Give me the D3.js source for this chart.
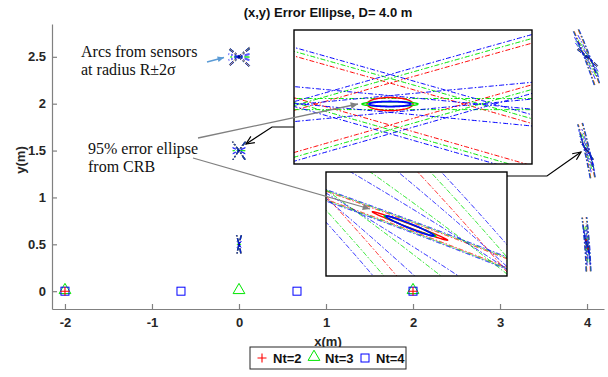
<!DOCTYPE html>
<html>
<head>
<meta charset="utf-8">
<script src="https://cdn.jsdelivr.net/npm/d3@7"></script>
<style>
body { margin: 0; background: #fff; }
</style>
</head>
<body>
<div id="chart"></div>
<script>
// ---- data ----
var ntValues = [2, 3, 4];
var sensorsNt2 = [-2, 2];            // sensor x positions, all at y = 0
var sensorsNt3 = [-2, 0, 2];
var sensorsNt4 = [-2, -2 / 3, 2 / 3, 2];
var targetX = [0, 0, 0, 4, 4, 4];
var targetY = [2.5, 1.5, 0.5, 2.5, 1.5, 0.5];
var xTicks = [-2, -1, 0, 1, 2, 3, 4];
var yTicks = [0, 0.5, 1, 1.5, 2, 2.5];
var sigma0 = 2e-4;          // range std of a sensor = sigma0 * sqrt(Nt) * R^2
var arcK = 2;               // arcs at R +/- 2 sigma
var arcHalfAngle = 0.048;   // angular half span of every drawn arc (rad)
var ellipseK = 0.88;        // 95% ellipse scale on the CRB
// zoom windows [xmin, xmax, ymin, ymax] of the two insets
var inset1Window = [-0.00575, 0.0085, 1.48315, 1.5208];
var inset2Window = [3.9671, 4.038, 1.430, 1.5755];
var inset1Target = 1;       // index into targetX / targetY
var inset2Target = 4;

// ---- layout / style ----
var colors = {2: "#ff0000", 3: "#00e600", 4: "#0000ff"};
var sensorsOf = {2: sensorsNt2, 3: sensorsNt3, 4: sensorsNt4};
var W = 608, H = 377;
var plot = {left: 52, right: 604, top: 24, bottom: 309};
var box1 = {x: 294, y: 30, w: 238, h: 134};
var box2 = {x: 326, y: 172, w: 181, h: 104};
var sansBold = "bold 13px 'Liberation Sans', Arial, sans-serif";
var serif = "16px 'Liberation Serif', 'Times New Roman', serif";

var svg = d3.select("#chart").append("svg")
    .attr("width", W).attr("height", H)
    .style("font", sansBold);

var x = d3.scaleLinear().domain([-2.149, 4.195]).range([plot.left, plot.right]);
var y = d3.scaleLinear().domain([-0.19, 2.85]).range([plot.bottom, plot.top]);

// axes, ticks pointing inward like matlab
var gx = svg.append("g").attr("transform", "translate(0," + plot.bottom + ")")
    .call(d3.axisBottom(x).tickValues(xTicks).tickSize(-5).tickSizeOuter(0)
        .tickPadding(9).tickFormat(function (d) { return String(d); }));
var gy = svg.append("g").attr("transform", "translate(" + plot.left + ",0)")
    .call(d3.axisLeft(y).tickValues(yTicks).tickSize(-5).tickSizeOuter(0)
        .tickPadding(6).tickFormat(function (d) { return String(d); }));
[gx, gy].forEach(function (g) {
    g.selectAll("path,line").attr("stroke", "#808080").attr("stroke-width", 1.2);
    g.selectAll("text").style("font", sansBold).attr("fill", "#262626");
});

svg.append("text").attr("x", (plot.left + plot.right) / 2).attr("y", 17)
    .attr("text-anchor", "middle").attr("fill", "#111")
    .text("(x,y) Error Ellipse, D= 4.0 m");
svg.append("text").attr("x", (plot.left + plot.right) / 2).attr("y", 346)
    .attr("text-anchor", "middle").attr("fill", "#262626").text("x(m)");
svg.append("text").attr("transform", "translate(25,160) rotate(-90)")
    .attr("text-anchor", "middle").attr("fill", "#262626").text("y(m)");

// ---- geometry helpers ----
function arcPaths(tx, ty, sensors, nt, n) {
    var out = [];
    sensors.forEach(function (s) {
        var dx = tx - s, dy = ty;
        var R = Math.sqrt(dx * dx + dy * dy);
        var th0 = Math.atan2(dy, dx);
        var sig = sigma0 * Math.sqrt(nt) * R * R;
        [R - arcK * sig, R + arcK * sig].forEach(function (rho) {
            out.push(d3.range(n + 1).map(function (i) {
                var th = th0 - arcHalfAngle + 2 * arcHalfAngle * i / n;
                return [s + rho * Math.cos(th), rho * Math.sin(th)];
            }));
        });
    });
    return out;
}

function crbEllipse(tx, ty, sensors, nt, n) {
    var jxx = 0, jxy = 0, jyy = 0;
    sensors.forEach(function (s) {
        var dx = tx - s, dy = ty, R = Math.sqrt(dx * dx + dy * dy);
        var sig = sigma0 * Math.sqrt(nt) * R * R;
        var ux = dx / R, uy = dy / R, w = 1 / (sig * sig);
        jxx += w * ux * ux; jxy += w * ux * uy; jyy += w * uy * uy;
    });
    var det = jxx * jyy - jxy * jxy;
    var a = jyy / det, b = -jxy / det, c = jxx / det;
    var m = (a + c) / 2, d = Math.sqrt((a - c) * (a - c) / 4 + b * b);
    var r1 = Math.sqrt(m + d) * ellipseK, r2 = Math.sqrt(Math.max(m - d, 0)) * ellipseK;
    var phi = 0.5 * Math.atan2(2 * b, a - c);
    return d3.range(n + 1).map(function (i) {
        var t = 2 * Math.PI * i / n;
        var ex = r1 * Math.cos(t), ey = r2 * Math.sin(t);
        return [tx + ex * Math.cos(phi) - ey * Math.sin(phi),
                ty + ex * Math.sin(phi) + ey * Math.cos(phi)];
    });
}

function drawTarget(g, sx, sy, ti, nSamples, ellipseWidth) {
    var line = d3.line().x(function (d) { return sx(d[0]); }).y(function (d) { return sy(d[1]); });
    ntValues.forEach(function (nt) {
        arcPaths(targetX[ti], targetY[ti], sensorsOf[nt], nt, nSamples).forEach(function (pts) {
            g.append("path").attr("d", line(pts)).attr("fill", "none")
                .attr("stroke", colors[nt]).attr("stroke-width", 1)
                .attr("stroke-dasharray", "5,2,1.5,2");
        });
    });
    ntValues.forEach(function (nt) {
        g.append("path").attr("d", line(crbEllipse(targetX[ti], targetY[ti], sensorsOf[nt], nt, 120)))
            .attr("fill", "none").attr("stroke", colors[nt])
            .attr("stroke-width", ellipseWidth[nt]);
    });
}

var defs = svg.append("defs");
function clipRect(id, r) {
    defs.append("clipPath").attr("id", id).append("rect")
        .attr("x", r.x).attr("y", r.y).attr("width", r.w).attr("height", r.h);
}
clipRect("clipMain", {x: plot.left, y: plot.top - 10, w: plot.right - plot.left, h: plot.bottom - plot.top + 10});
clipRect("clip1", box1);
clipRect("clip2", box2);

// ---- main plot ----
var main = svg.append("g").attr("clip-path", "url(#clipMain)");
targetX.forEach(function (tx, i) {
    drawTarget(main, x, y, i, 120, {2: 1, 3: 1, 4: 1});
});

// sensor markers along y = 0
var markers = svg.append("g").attr("fill", "none");
sensorsNt3.forEach(function (s) {
    markers.append("path").attr("d", d3.symbol(d3.symbolTriangle, 60)())
        .attr("transform", "translate(" + x(s) + "," + (y(0) - 1) + ")")
        .attr("stroke", colors[3]).attr("stroke-width", 1);
});
sensorsNt4.forEach(function (s) {
    markers.append("rect").attr("x", x(s) - 4).attr("y", y(0) - 4)
        .attr("width", 8).attr("height", 8)
        .attr("stroke", colors[4]).attr("stroke-width", 1);
});
sensorsNt2.forEach(function (s) {
    markers.append("path").attr("d", d3.symbol(d3.symbolCross, 0)())
        .attr("d", "M-4.5,0H4.5M0,-4.5V4.5")
        .attr("transform", "translate(" + x(s) + "," + y(0) + ")")
        .attr("stroke", colors[2]).attr("stroke-width", 1.1);
});

// ---- insets ----
function drawInset(box, win, ti, widths) {
    var sx = d3.scaleLinear().domain([win[0], win[1]]).range([box.x, box.x + box.w]);
    var sy = d3.scaleLinear().domain([win[2], win[3]]).range([box.y + box.h, box.y]);
    svg.append("rect").attr("x", box.x).attr("y", box.y).attr("width", box.w).attr("height", box.h)
        .attr("fill", "#fff");
    var g = svg.append("g").attr("clip-path", "url(#" + box.id + ")");
    drawTarget(g, sx, sy, ti, 1500, widths);
    svg.append("rect").attr("x", box.x).attr("y", box.y).attr("width", box.w).attr("height", box.h)
        .attr("fill", "none").attr("stroke", "#000").attr("stroke-width", 1.4);
}
box1.id = "clip1"; box2.id = "clip2";
drawInset(box1, inset1Window, inset1Target, {2: 1.4, 3: 1.4, 4: 1.8});
drawInset(box2, inset2Window, inset2Target, {2: 1.4, 3: 1.4, 4: 1.6});

// ---- annotations ----
function arrow(pts, color, width, head, filled) {
    svg.append("path").attr("d", d3.line()(pts)).attr("fill", "none")
        .attr("stroke", color).attr("stroke-width", width);
    var p = pts[pts.length - 1], q = pts[pts.length - 2];
    var ang = Math.atan2(p[1] - q[1], p[0] - q[0]);
    var a1 = ang + Math.PI - 0.42, a2 = ang + Math.PI + 0.42;
    var h1 = [p[0] + head * Math.cos(a1), p[1] + head * Math.sin(a1)];
    var h2 = [p[0] + head * Math.cos(a2), p[1] + head * Math.sin(a2)];
    if (filled) {
        svg.append("path").attr("d", "M" + h1 + "L" + p + "L" + h2 + "Z").attr("fill", color);
    } else {
        svg.append("path").attr("d", "M" + h1 + "L" + p + "L" + h2).attr("fill", "none")
            .attr("stroke", color).attr("stroke-width", width);
    }
}
arrow([[294, 127], [272, 127], [246, 144]], "#000", 1.2, 9, false);
arrow([[507, 176], [547, 176], [581, 152]], "#000", 1.2, 9, false);
arrow([[198, 138], [358, 104]], "#808080", 1.3, 8, true);
arrow([[193, 158], [370, 209]], "#808080", 1.3, 8, true);
arrow([[207, 62], [224, 57.5]], "#5b9bd5", 1.5, 7, true);

var notes = [
    {t: "Arcs from sensors", x: 81, y: 57},
    {t: "at radius R\u00b12\u03c3", x: 81, y: 75},
    {t: "95% error ellipse", x: 88, y: 154},
    {t: "from CRB", x: 88, y: 172}
];
notes.forEach(function (n) {
    svg.append("text").attr("x", n.x).attr("y", n.y).style("font", serif)
        .attr("fill", "#111").text(n.t);
});

// ---- legend ----
var lg = svg.append("g");
lg.append("rect").attr("x", 250).attr("y", 347).attr("width", 156).attr("height", 22)
    .attr("fill", "#fff").attr("stroke", "#262626").attr("stroke-width", 1);
var legendItems = [
    {nt: 2, mx: 262, tx: 273},
    {nt: 3, mx: 314, tx: 325},
    {nt: 4, mx: 365, tx: 376}
];
legendItems.forEach(function (it) {
    var cy = 358;
    if (it.nt === 2) {
        lg.append("path").attr("d", "M-4.5,0H4.5M0,-4.5V4.5")
            .attr("transform", "translate(" + it.mx + "," + cy + ")")
            .attr("stroke", colors[2]).attr("stroke-width", 1.1);
    } else if (it.nt === 3) {
        lg.append("path").attr("d", d3.symbol(d3.symbolTriangle, 60)())
            .attr("transform", "translate(" + it.mx + "," + (cy - 1) + ")")
            .attr("fill", "none").attr("stroke", colors[3]);
    } else {
        lg.append("rect").attr("x", it.mx - 4).attr("y", cy - 4).attr("width", 8).attr("height", 8)
            .attr("fill", "none").attr("stroke", colors[4]);
    }
    lg.append("text").attr("x", it.tx).attr("y", cy + 4.5).attr("fill", "#111")
        .text("Nt=" + it.nt);
});
</script>
</body>
</html>
